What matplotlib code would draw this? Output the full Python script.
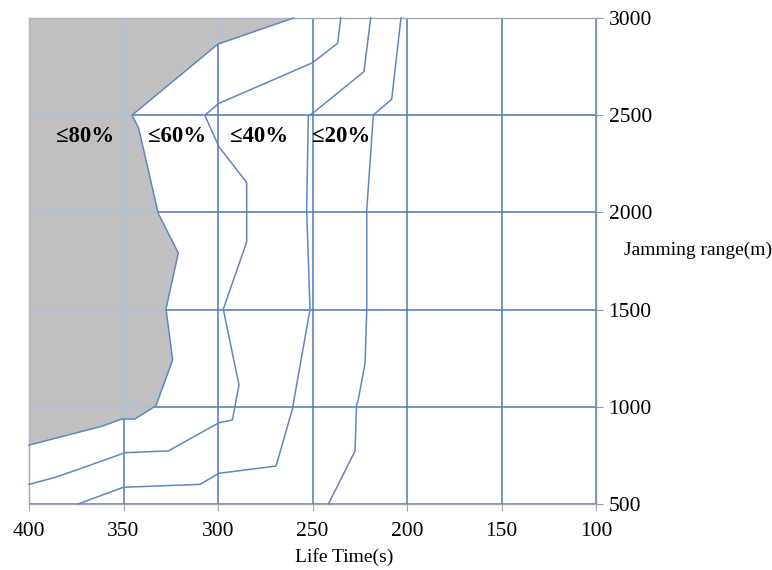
import matplotlib
matplotlib.use("Agg")
import matplotlib.pyplot as plt
import numpy as np

plt.rcParams["font.family"] = ["Liberation Serif", "DejaVu Serif"]

# contour boundaries (life time s, jamming range m)
line80_x = [260, 300, 345.5, 342, 332, 331.7, 321, 327.5, 324, 331.7, 333, 344, 351, 361, 400]
line80_y = [3000, 2866, 2500, 2434, 2012, 1997, 1791, 1503, 1241, 1035, 1004, 937, 937, 901, 803]

line60_x = [235, 236.7, 250, 299.5, 307, 299.5, 284.8, 284.8, 297.2, 288.9, 292.4, 299.5, 326.3, 349.2, 374.8, 386.2, 400]
line60_y = [3000, 2870, 2770, 2561, 2500, 2338, 2153, 1849, 1502, 1112, 932, 918, 773, 764, 675, 637, 601]

line40_x = [219.2, 222.8, 249.9, 252.2, 253.1, 251.3, 259.8, 260.5, 269.3, 299.5, 309.5, 350.1, 374]
line40_y = [3000, 2724, 2510, 2496, 2012, 1502, 1035, 992, 695, 658, 601, 586, 500]

line20_x = [203.2, 208.1, 217.8, 221.3, 221.3, 222.2, 225.8, 226.7, 227.5, 241.6]
line20_y = [3000, 2582, 2501, 2012, 1498, 1224, 1035, 1009, 773, 500]

labels = ["≤80%", "≤60%", "≤40%", "≤20%"]
label_x = [370.4, 321.7, 278.3, 234.9]
label_y = 2390

x_ticks = [400, 350, 300, 250, 200, 150, 100]
y_ticks = [500, 1000, 1500, 2000, 2500, 3000]

fig = plt.figure(figsize=(7.72, 5.70), dpi=100)
ax = fig.add_axes([29 / 772, 1 - 504 / 570, 567 / 772, 486 / 570])
ax.set_xlim(400, 100)
ax.set_ylim(500, 3000)

grid_dark = "#4f76b4"
grid_light = "#a9c0e3"

# grid beneath the fill
for xv in x_ticks:
    ax.axvline(xv, color=grid_dark, lw=1.1, zorder=1)
for yv in y_ticks:
    ax.axhline(yv, color=grid_dark, lw=1.1, zorder=1)

# gray region (<=80%)
poly_x = [400] + line80_x + [400]
poly_y = [3000] + line80_y + [3000]
fill = ax.fill(poly_x, poly_y, color="#c0c0c0", lw=0, zorder=2)[0]

# light grid over the gray region
for xv in x_ticks:
    ln = ax.axvline(xv, color=grid_light, lw=1.1, zorder=3)
    ln.set_clip_path(fill)
for yv in y_ticks:
    ln = ax.axhline(yv, color=grid_light, lw=1.1, zorder=3)
    ln.set_clip_path(fill)

line_col = "#5f86c4"
for xs, ys in [(line80_x, line80_y), (line60_x, line60_y),
               (line40_x, line40_y), (line20_x, line20_y)]:
    ax.plot(xs, ys, color=line_col, lw=1.1, zorder=4, clip_on=False)

for t, lx in zip(labels, label_x):
    ax.text(lx, label_y, t, fontsize=16.5, fontweight="bold",
            ha="center", va="center", zorder=5)

# spines and ticks
for s in ["left", "top", "bottom"]:
    ax.spines[s].set_color("#a6a6a6")
    ax.spines[s].set_linewidth(1.0)
ax.spines["right"].set_color("#7f99c2")
ax.spines["right"].set_linewidth(1.0)

ax.set_xticks(x_ticks)
ax.set_yticks(y_ticks)
ax.yaxis.tick_right()
ax.tick_params(axis="x", direction="out", length=5, color="#a6a6a6",
               labelsize=15.5, pad=8)
ax.tick_params(axis="y", direction="out", length=5, color="#7f99c2",
               labelsize=15.5, pad=4)

fig.text(344 / 772, 1 - 557 / 570, "Life Time(s)", fontsize=14,
         ha="center", va="center")
fig.text(698 / 772, 1 - 250 / 570, "Jamming range(m)", fontsize=14,
         ha="center", va="center")

fig.savefig("out.png", dpi=100)
